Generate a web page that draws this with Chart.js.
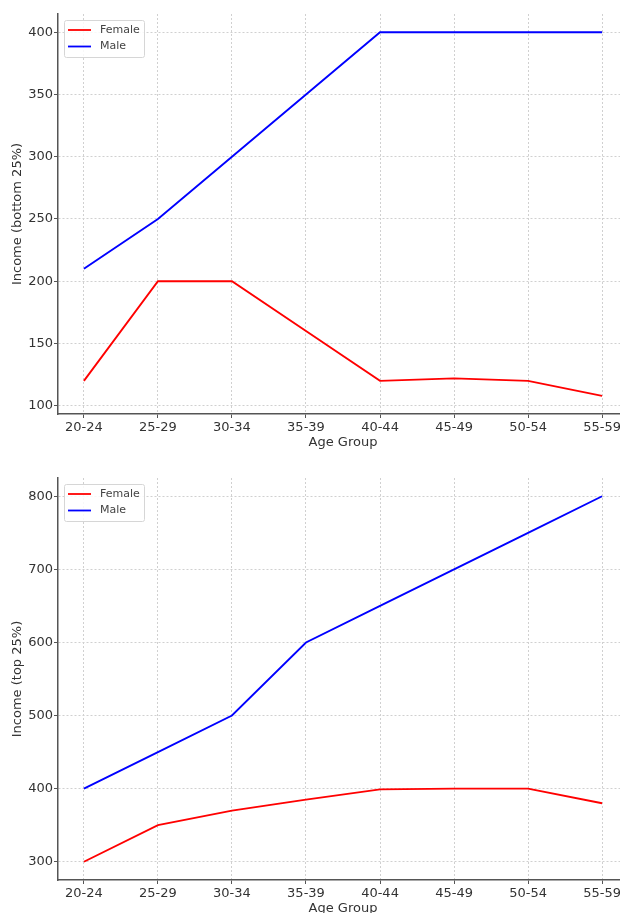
<!DOCTYPE html>
<html>
<head>
<meta charset="utf-8">
<script src="https://cdn.jsdelivr.net/npm/chart.js@4.4.1/dist/chart.umd.min.js"></script>
<style>
  html, body { margin: 0; padding: 0; background: #fff; overflow: hidden; }
  body { width: 620px; height: 913px; position: relative; }
  .wrap { position: absolute; left: 0; width: 640px; }
  #top { top: 0; height: 454px; }
  #bottom { top: 458px; height: 462px; }
</style>
</head>
<body>
<div class="wrap" id="top"><canvas id="chartBottom25"></canvas></div>
<div class="wrap" id="bottom"><canvas id="chartTop25"></canvas></div>
<script>
// Datos
const ageGroups = ['20-24', '25-29', '30-34', '35-39', '40-44', '45-49', '50-54', '55-59'];

const femaleBottom = [120, 200, 200, 160, 120, 122, 120, 108];
const maleBottom = [210, 250, 300, 350, 400, 400, 400, 400];

const femaleTop = [300, 350, 370, 385, 399, 400, 400, 380];
const maleTop = [400, 450, 500, 600, 650, 700, 750, 800];

const yTicksBottom = [100, 150, 200, 250, 300, 350, 400];
const yTicksTop = [300, 400, 500, 600, 700, 800];

Chart.defaults.font.family = '"DejaVu Sans", sans-serif';
Chart.defaults.animation = false;

// Leyenda dentro del área del gráfico, con caja blanca
const legendBox = {
  id: 'legendBox',
  afterDatasetsDraw(chart) {
    const ctx = chart.ctx;
    const area = chart.chartArea;
    const x = area.left + 6;
    const y = area.top + 6;
    ctx.save();
    ctx.fillStyle = 'rgba(255,255,255,0.85)';
    ctx.strokeStyle = '#d6d6d6';
    ctx.lineWidth = 1;
    ctx.beginPath();
    ctx.roundRect(x + 0.5, y + 0.5, 80, 37, 2);
    ctx.fill();
    ctx.stroke();
    ctx.font = '11px "DejaVu Sans", sans-serif';
    ctx.textBaseline = 'middle';
    chart.data.datasets.forEach((ds, i) => {
      const ly = y + 10 + i * 16.5;
      ctx.strokeStyle = ds.borderColor;
      ctx.lineWidth = 1.8;
      ctx.beginPath();
      ctx.moveTo(x + 4, ly);
      ctx.lineTo(x + 27, ly);
      ctx.stroke();
      ctx.fillStyle = '#444';
      ctx.fillText(ds.label, x + 36, ly);
    });
    ctx.restore();
  }
};

function toPoints(values) {
  return values.map((v, i) => ({ x: i, y: v }));
}

function crearGrafico(canvasId, female, male, yTicks, yTitle, yMin, yMax, padTop) {
  const ctx = document.getElementById(canvasId).getContext('2d');
  return new Chart(ctx, {
    type: 'line',
    data: {
      datasets: [
        { label: 'Female', data: toPoints(female), borderColor: '#ff0000', borderWidth: 1.9, pointRadius: 0, tension: 0, fill: false },
        { label: 'Male', data: toPoints(male), borderColor: '#0000ff', borderWidth: 1.9, pointRadius: 0, tension: 0, fill: false }
      ]
    },
    options: {
      responsive: true,
      maintainAspectRatio: false,
      layout: { padding: { left: 0, top: padTop, right: 12, bottom: 0 } },
      plugins: { legend: { display: false }, tooltip: { enabled: false } },
      scales: {
        x: {
          type: 'linear',
          min: -0.35,
          max: ageGroups.length - 1 + 0.35,
          afterFit(scale) { scale.height = 40; },
          afterBuildTicks(scale) { scale.ticks = ageGroups.map((_, i) => ({ value: i })); },
          ticks: {
            callback: (v) => ageGroups[v],
            color: '#333',
            font: { size: 13 },
            padding: 2,
            maxRotation: 0,
            autoSkip: false
          },
          grid: { color: '#d0d0d0', tickLength: 4, tickColor: '#555', tickBorderDash: [] },
          border: { display: true, color: '#555', width: 1.5, dash: [2, 2] },
          title: { display: true, text: 'Age Group', color: '#333', font: { size: 13 }, padding: { top: 0, bottom: 4 } }
        },
        y: {
          min: yMin,
          max: yMax,
          afterFit(scale) { scale.width = 58; },
          afterBuildTicks(scale) { scale.ticks = yTicks.map(v => ({ value: v })); },
          ticks: { color: '#333', font: { size: 13 }, padding: 1 },
          grid: { color: '#d0d0d0', tickLength: 4, tickColor: '#555', tickBorderDash: [] },
          border: { display: true, color: '#555', width: 1.5, dash: [2, 2] },
          title: { display: true, text: yTitle, color: '#333', font: { size: 13 }, padding: { top: 10, bottom: 0 } }
        }
      }
    },
    plugins: [legendBox]
  });
}

crearGrafico('chartBottom25', femaleBottom, maleBottom, yTicksBottom, 'Income (bottom 25%)', 93.4, 414.6, 14);
crearGrafico('chartTop25', femaleTop, maleTop, yTicksTop, 'Income (top 25%)', 275, 825, 20);
</script>
</body>
</html>
